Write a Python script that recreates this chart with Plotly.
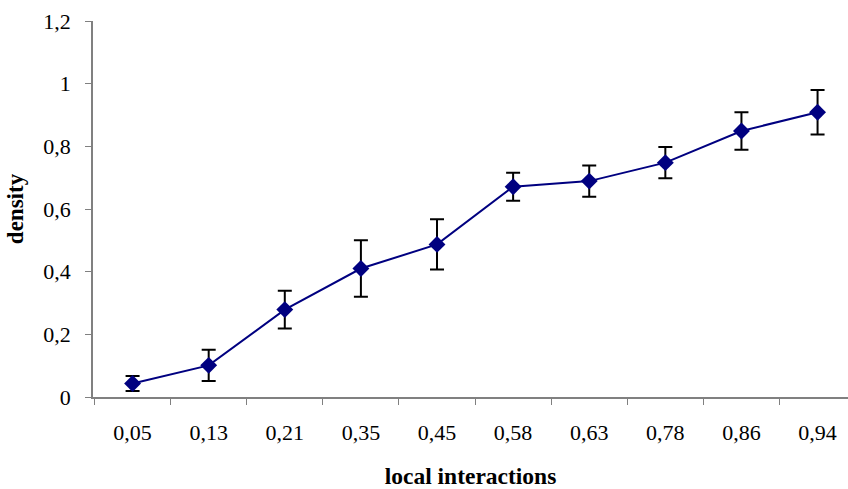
import plotly.graph_objects as go

categories = ["0,05", "0,13", "0,21", "0,35", "0,45", "0,58", "0,63", "0,78", "0,86", "0,94"]
density = [0.043, 0.101, 0.279, 0.41, 0.487, 0.671, 0.689, 0.748, 0.849, 0.909]
error = [0.024, 0.05, 0.06, 0.09, 0.08, 0.045, 0.05, 0.05, 0.06, 0.071]
y_ticks = [0, 0.2, 0.4, 0.6, 0.8, 1.0, 1.2]
y_tick_labels = ["0", "0,2", "0,4", "0,6", "0,8", "1", "1,2"]

font_family = "Liberation Serif"
tick_font = dict(family=font_family, size=22, color="black")

fig = go.Figure()
fig.add_trace(go.Scatter(
    x=categories,
    y=density,
    mode="lines+markers",
    line=dict(color="#000080", width=2),
    marker=dict(symbol="diamond", size=13, color="#000080"),
    error_y=dict(type="data", array=error, visible=True, color="black", thickness=2, width=7),
    showlegend=False,
))

fig.update_layout(
    width=848,
    height=489,
    margin=dict(l=93, r=0, t=21, b=92),
    paper_bgcolor="white",
    plot_bgcolor="white",
    font=dict(family=font_family, size=22, color="black"),
    xaxis=dict(
        type="category",
        range=[-0.52, 9.4],
        automargin=False,
        showline=True,
        linecolor="#808080",
        linewidth=1.5,
        ticks="outside",
        tickson="boundaries",
        ticklen=6,
        tickcolor="#808080",
        tickfont=tick_font,
        showgrid=False,
        zeroline=False,
        ticklabelstandoff=15,
        title=dict(text="<b>local interactions</b>", font=dict(family=font_family, size=23.5), standoff=25),
    ),
    yaxis=dict(
        range=[0, 1.2],
        tickvals=y_ticks,
        ticktext=y_tick_labels,
        automargin=False,
        showline=True,
        linecolor="#808080",
        linewidth=1.5,
        ticks="outside",
        ticklen=6,
        tickcolor="#808080",
        tickfont=tick_font,
        showgrid=False,
        zeroline=False,
        ticklabelstandoff=10,
        title=dict(text="<b>density</b>", font=dict(family=font_family, size=23), standoff=13),
    ),
)

fig.write_html(
    "out.html",
    config={"displayModeBar": False},
    post_script="document.body.style.margin='0';document.body.style.overflow='hidden';",
)
